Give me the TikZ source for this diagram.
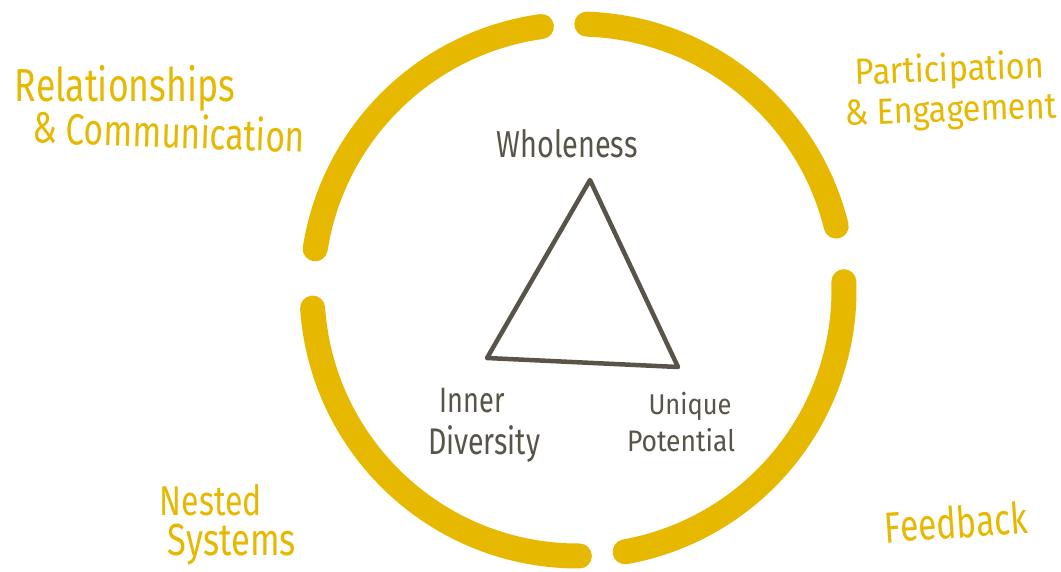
\documentclass[tikz,border=0pt]{standalone}
\usepackage{fontspec}
\setmainfont{Fira Sans}
\usepackage{graphicx}
\definecolor{gold}{RGB}{231,184,0}
\definecolor{ink}{RGB}{88,84,74}
\newcommand{\hw}[2]{\resizebox{#1pt}{!}{\scalebox{1}[1.3]{#2}}}
\newcommand{\hwlow}[2]{\resizebox{#1pt}{!}{\scalebox{1}[1.12]{#2}}}
\tikzset{
  ring/.style={draw=gold,line width=25pt,line cap=round},
  tri/.style={draw=ink,line width=4.5pt,line join=round},
  goldtxt/.style={text=gold,inner sep=0pt,font=\fontsize{30}{32}\selectfont},
  inktxt/.style={text=ink,inner sep=0pt,font=\fontsize{30}{32}\selectfont},
}
\begin{document}
\begin{tikzpicture}[x=1pt,y=1pt]
\path[use as bounding box,fill=white] (0,0) rectangle (1061,-571);
\coordinate (c) at (578,-290);
% ring segments
\draw[ring] (c) ++(13.9:266) arc[start angle=13.9,end angle=88.1,radius=266];
\draw[ring] (c) ++(-79.8:266) arc[start angle=-79.8,end angle=1.8,radius=266];
\draw[ring] (c) ++(183.9:266) arc[start angle=183.9,end angle=270.3,radius=266];
\draw[ring] (c) ++(97.9:266) arc[start angle=97.9,end angle=171.1,radius=266];
% triangle
\coordinate (ta) at (590,-180);
\coordinate (tb) at (487,-358);
\coordinate (tc) at (678,-367);
\draw[tri] (ta) -- (tb) -- (tc) -- cycle;
% inner labels
\node[inktxt] (whole) at (567,-144) {\hw{141}{Wholeness}};
\node[inktxt] (inner1) at (472,-401) {\hw{65}{Inner}};
\node[inktxt] (inner2) at (484,-444) {\hw{112}{Diversity}};
\node[inktxt] (uniq1) at (690,-406) {\hwlow{83}{Unique}};
\node[inktxt] (uniq2) at (681,-440) {\hwlow{108}{Potential}};
% outer labels
\node[goldtxt] (rel1) at (125,-88) {\hw{220}{Relationships}};
\node[goldtxt,rotate=-2] (rel2) at (169,-131) {\hw{272}{\& Communication}};
\node[goldtxt,rotate=2] (par1) at (950,-71) {\hwlow{189}{Participation}};
\node[goldtxt,rotate=2] (par2) at (951,-113) {\hwlow{212}{\& Engagement}};
\node[goldtxt] (nest1) at (211,-500) {\hw{102}{Nested}};
\node[goldtxt] (nest2) at (232,-545) {\hw{128}{Systems}};
\node[goldtxt,rotate=4] (feed) at (956,-522) {\hw{143}{Feedback}};
\end{tikzpicture}
\end{document}
